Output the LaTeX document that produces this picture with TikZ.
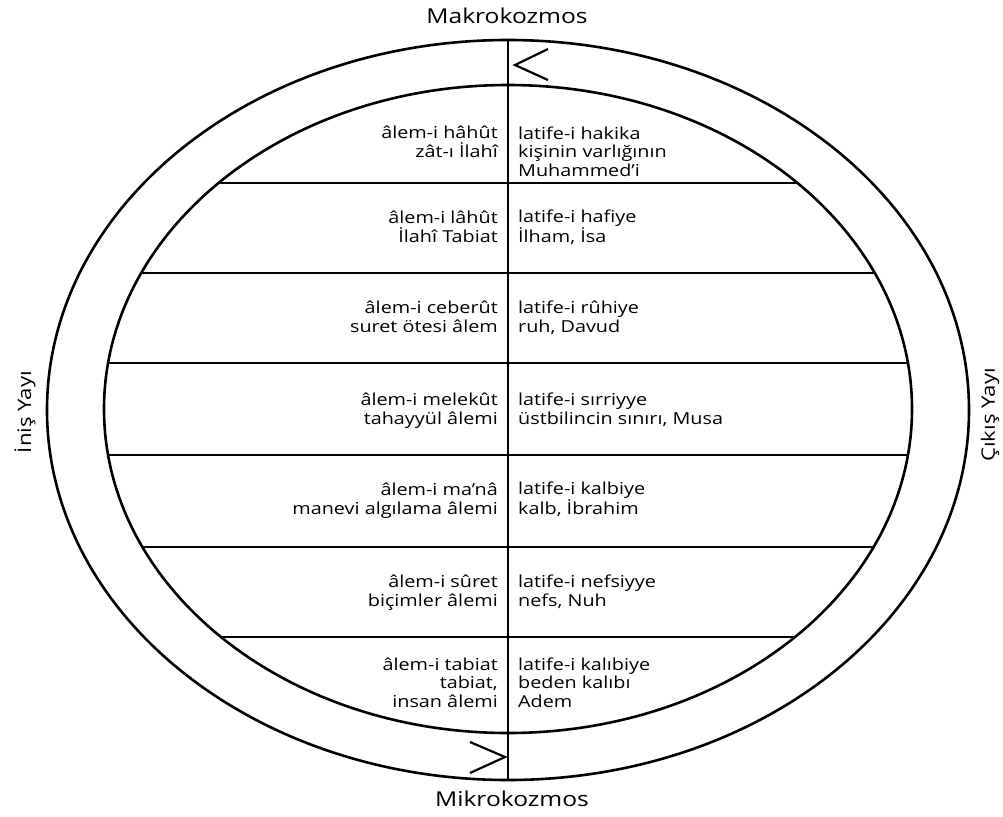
\documentclass[tikz,border=0pt]{standalone}
\usepackage{fontspec}
\setmainfont{Open Sans}[FakeStretch=1.2]
\begin{document}
\begin{tikzpicture}[
	x=1pt, y=-1pt,
	ring/.style = {line width=2.6pt},
	rule/.style = {line width=1.4pt},
	axis/.style = {line width=2.2pt},
	l/.style = {anchor=base east, align=right, inner sep=0pt, font=\fontsize{16.5}{18.5}\selectfont},
	r/.style = {anchor=base west, align=left, inner sep=0pt, font=\fontsize{16.5}{18.5}\selectfont},
	lbl/.style = {inner sep=0pt, font=\fontsize{20.5}{24}\selectfont},
	side/.style = {inner sep=0pt, rotate=90, font=\fontsize{18.5}{22}\selectfont}
	]
	\useasboundingbox (0,0) rectangle (1003,816);
	
	% ===== ===== ===== ===== =====
	
	% Rings
	\draw[ring]	(508,410)	ellipse	[x radius=461, y radius=370];
	\draw[ring]	(508,409)	ellipse	[x radius=404, y radius=324];
	
	% Lines
	\coordinate	(top)	at	(508,40);
	\coordinate	(bot)	at	(508,780);
	\draw[axis]	(top)	--	(bot);
	
	\foreach \y in {183,273,363,455,547,637} {
		\pgfmathsetmacro{\w}{404*sqrt(1-((\y-409)/324)^2)}
		\draw[rule]	(508-\w,\y)	--	(508+\w,\y);
	}
	
	\draw[axis]	(548,49)	--	(515,65)	--	(548,80);
	\draw[axis]	(470,742)	--	(505,757)	--	(470,773);
	
	% ===== ===== ===== ===== =====
	
	% Labels
	\node[lbl, anchor=base]	(makro)	at	(507,24)	{Makrokozmos};
	\node[lbl, anchor=base]	(mikro)	at	(512,806)	{Mikrokozmos};
	\node[side]	(inis)	at	(25,412)	{İniş Yayı};
	\node[side]	(cikis)	at	(990,415)	{Çıkış Yayı};
	
	% Nodes (anchored on the baseline of the last line)
	\node[l]	(l1)	at	(498,157)	{âlem-i hâhût\\zât-ı İlahî};
	\node[l]	(l2)	at	(498,242)	{âlem-i lâhût\\İlahî Tabiat};
	\node[l]	(l3)	at	(498,332)	{âlem-i ceberût\\suret ötesi âlem};
	\node[l]	(l4)	at	(498,424)	{âlem-i melekût\\tahayyül âlemi};
	\node[l]	(l5)	at	(498,514)	{âlem-i ma’nâ\\manevi algılama âlemi};
	\node[l]	(l6)	at	(498,606)	{âlem-i sûret\\biçimler âlemi};
	\node[l]	(l7)	at	(498,707)	{âlem-i tabiat\\tabiat,\\insan âlemi};
	
	\node[r]	(r1)	at	(518,176)	{latife-i hakika\\kişinin varlığının\\Muhammed’i};
	\node[r]	(r2)	at	(518,242)	{latife-i hafiye\\İlham, İsa};
	\node[r]	(r3)	at	(518,332)	{latife-i rûhiye\\ruh, Davud};
	\node[r]	(r4)	at	(518,424)	{latife-i sırriyye\\üstbilincin sınırı, Musa};
	\node[r]	(r5)	at	(518,514)	{latife-i kalbiye\\kalb, İbrahim};
	\node[r]	(r6)	at	(518,606)	{latife-i nefsiyye\\nefs, Nuh};
	\node[r]	(r7)	at	(518,707)	{latife-i kalıbiye\\beden kalıbı\\Adem};
	
\end{tikzpicture}
\end{document}
